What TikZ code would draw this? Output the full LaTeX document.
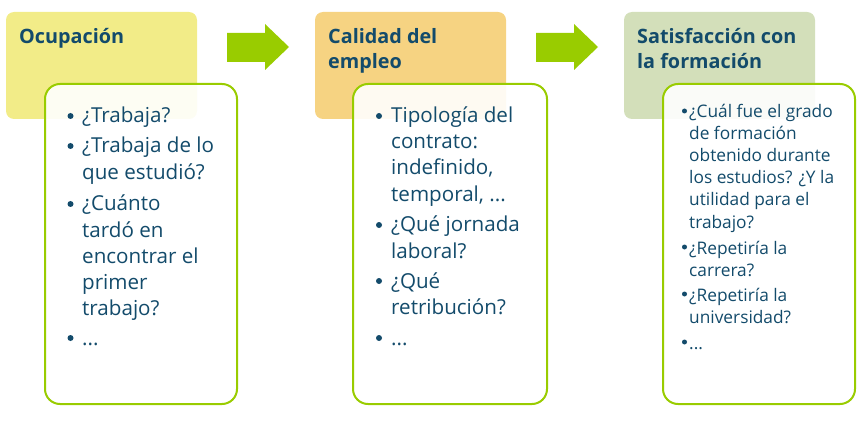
\documentclass[tikz,border=0pt]{standalone}
\usepackage{fontspec}
\setmainfont{Open Sans}
\definecolor{txt}{HTML}{134B6B}
\definecolor{grn}{HTML}{99CC00}
\definecolor{hyel}{HTML}{F2EC88}
\definecolor{hora}{HTML}{F6D382}
\definecolor{hgre}{HTML}{D3DFBA}
\tikzset{
  header/.style={rounded corners=8pt},
  listbox/.style={draw=grn, line width=2pt, fill=white, fill opacity=0.9, rounded corners=15pt},
  flowarrow/.style={fill=grn},
  htext/.style={anchor=base west, inner sep=0pt, text=txt, font=\fontsize{19.8}{24}\selectfont\bfseries},
  ltext/.style={anchor=base west, inner sep=0pt, text=txt, font=\fontsize{20.6}{26}\selectfont},
  stext/.style={anchor=base west, inner sep=0pt, text=txt, font=\fontsize{17.3}{22}\selectfont},
  bul/.style={circle, fill=txt, inner sep=0pt, minimum size=6pt},
  sbul/.style={circle, fill=txt, inner sep=0pt, minimum size=5pt},
}
\begin{document}
\begin{tikzpicture}[x=1pt,y=-1pt]
\useasboundingbox (0,0) rectangle (868,425);
% headers
\fill[hyel, header] (6,12) rectangle (197,119);
\fill[hora, header] (315,12) rectangle (506,119);
\fill[hgre, header] (624,12) rectangle (815,119);
% list boxes
\path[listbox] (45,84) rectangle (237,404);
\path[listbox] (353,84) rectangle (547,404);
\path[listbox] (663,84) rectangle (855,404);
% arrows
\fill[flowarrow] (227,33) -- (265,33) -- (265,24) -- (289,47) -- (265,70) -- (265,62) -- (227,62) -- cycle;
\fill[flowarrow] (536,33) -- (574,33) -- (574,24) -- (598,47) -- (574,70) -- (574,62) -- (536,62) -- cycle;
% header texts
\node[htext] (h1) at (19,44) {Ocupación};
\node[htext] (h2a) at (328,44) {Calidad del};
\node[htext] (h2b) at (328,69) {empleo};
\node[htext] (h3a) at (637,44) {Satisfacción con};
\node[htext] (h3b) at (637,69) {la formación};
% column 1
\node[bul] (b1a) at (70.5,116) {};
\node[bul] (b1b) at (70.5,146) {};
\node[bul] (b1c) at (70.5,204) {};
\node[bul] (b1d) at (70.5,338) {};
\node[ltext] (t1a) at (82,123) {¿Trabaja?};
\node[ltext] (t1b) at (82,153) {¿Trabaja de lo};
\node[ltext] (t1c) at (82,179) {que estudió?};
\node[ltext] (t1d) at (82,211) {¿Cuánto};
\node[ltext] (t1e) at (82,237) {tardó en};
\node[ltext] (t1f) at (82,263) {encontrar el};
\node[ltext] (t1g) at (82,289) {primer};
\node[ltext] (t1h) at (82,315) {trabajo?};
\node[ltext] (t1i) at (82,345) {...};
% column 2
\node[bul] (b2a) at (379,116) {};
\node[bul] (b2b) at (379,225) {};
\node[bul] (b2c) at (379,281) {};
\node[bul] (b2d) at (379,338) {};
\node[ltext] (t2a) at (391,123) {Tipología del};
\node[ltext] (t2b) at (391,149) {contrato:};
\node[ltext] (t2c) at (391,175) {indefinido,};
\node[ltext] (t2d) at (391,201) {temporal, ...};
\node[ltext] (t2e) at (391,232) {¿Qué jornada};
\node[ltext] (t2f) at (391,258) {laboral?};
\node[ltext] (t2g) at (391,288) {¿Qué};
\node[ltext] (t2h) at (391,314) {retribución?};
\node[ltext] (t2i) at (391,345) {...};
% column 3
\node[sbul] (b3a) at (684.5,111) {};
\node[sbul] (b3b) at (684.5,247) {};
\node[sbul] (b3c) at (684.5,294) {};
\node[sbul] (b3d) at (684.5,342) {};
\node[stext] (t3a) at (689,118) {¿Cuál fue el grado};
\node[stext] (t3b) at (689,140) {de formación};
\node[stext] (t3c) at (689,162) {obtenido durante};
\node[stext] (t3d) at (689,184) {los estudios? ¿Y la};
\node[stext] (t3e) at (689,206) {utilidad para el};
\node[stext] (t3f) at (689,228) {trabajo?};
\node[stext] (t3g) at (689,254) {¿Repetiría la};
\node[stext] (t3h) at (689,276) {carrera?};
\node[stext] (t3i) at (689,301) {¿Repetiría la};
\node[stext] (t3j) at (689,323) {universidad?};
\node[stext] (t3k) at (689,349) {...};
\end{tikzpicture}
\end{document}
